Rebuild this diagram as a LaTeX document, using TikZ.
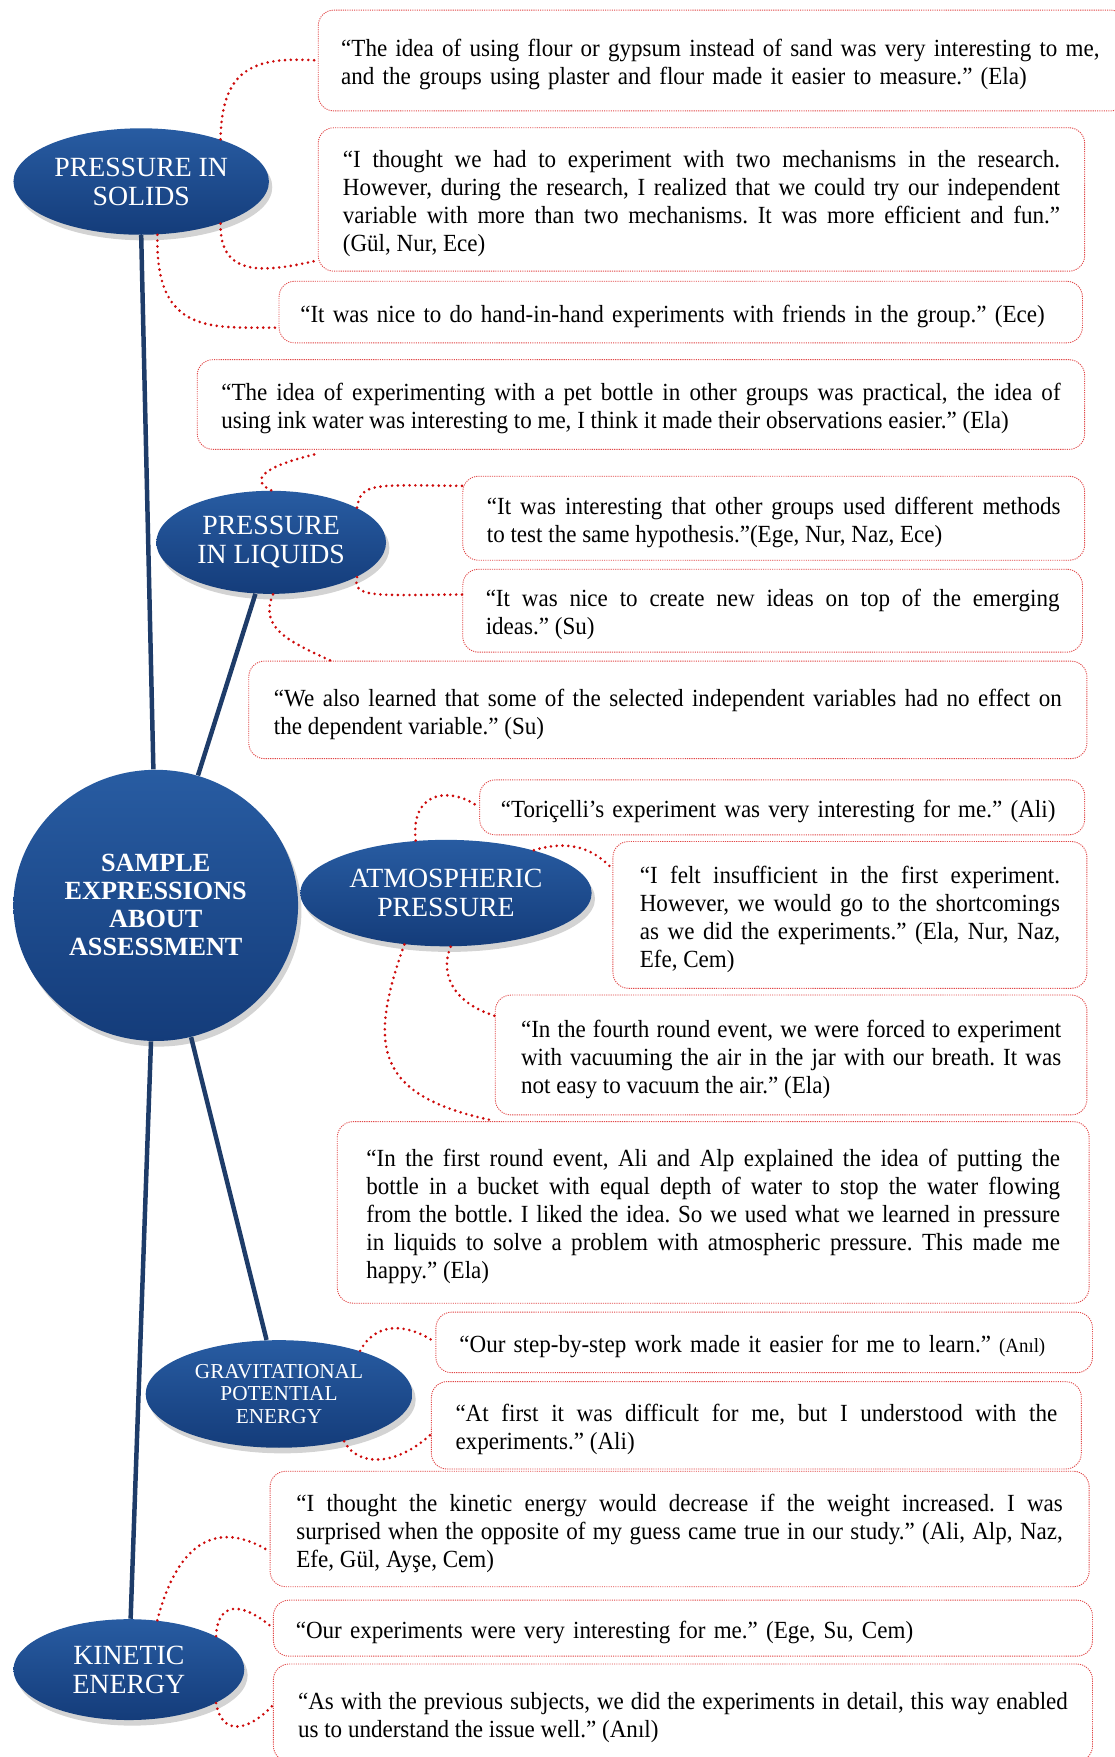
\documentclass[tikz,border=0pt]{standalone}
\usepackage{fontspec}
\setmainfont{Liberation Serif}
\newfontfamily\qfont[FakeStretch=0.935]{Liberation Serif}
\usetikzlibrary{shapes.geometric,shadows,calc}
\definecolor{ellA}{RGB}{40,92,162}
\definecolor{ellB}{RGB}{20,60,122}
\definecolor{trunkblue}{RGB}{30,60,105}
\definecolor{dotred}{RGB}{205,10,10}
\definecolor{boxred}{RGB}{225,70,70}
\tolerance=9999 \hbadness=10000
\frenchspacing

\begin{document}
\begin{tikzpicture}[x=0.5pt,y=-0.5pt,
    topic/.style={ellipse,inner sep=0pt,top color=ellA,bottom color=ellB,text=white,align=center,
      drop shadow={shadow xshift=1.5pt,shadow yshift=-2.5pt,opacity=0.35},
      font=\fontsize{12.4}{13}\selectfont},
    qbox/.style={draw=boxred,line width=0.4pt,dash pattern=on 0.5pt off 0.5pt,rounded corners=7pt,
      fill=white,inner sep=0pt,align=justify,font=\qfont\fontsize{11}{12.5}\selectfont,
      execute at begin node={\rule{0pt}{11.5pt}}},
    trunk/.style={draw=trunkblue,line width=2pt},
    link/.style={draw=dotred,line width=1.3pt,dash pattern=on 0pt off 2.6pt,line cap=round}]
\useasboundingbox (0,0) rectangle (995,1568);

% topics
\node[topic,minimum width=114pt,minimum height=47.5pt] (solids) at (126,162) {PRESSURE IN\\SOLIDS};
\node[topic,minimum width=102.5pt,minimum height=46pt] (liquids) at (242,484) {PRESSURE\\IN LIQUIDS};
\node[topic,minimum width=127pt,minimum height=121pt,font=\bfseries\fontsize{11.7}{12.5}\selectfont] (central) at (139,808)
  {SAMPLE\\EXPRESSIONS\\ABOUT\\ASSESSMENT};
\node[topic,minimum width=130pt,minimum height=47.5pt] (atmos) at (398,797) {ATMOSPHERIC\\PRESSURE};
\node[topic,minimum width=119pt,minimum height=48pt,font=\fontsize{9.5}{10}\selectfont] (grav) at (249,1244)
  {GRAVITATIONAL\\POTENTIAL\\ENERGY};
\node[topic,minimum width=103pt,minimum height=45pt] (kinetic) at (115,1490) {KINETIC\\ENERGY};

\draw[trunk] (solids.-90) -- (central.91);
\draw[trunk] (liquids.-107) -- (central.72);
\draw[trunk] (central.-92) -- (kinetic.88);
\draw[trunk] (central.-75) -- (grav.103);

% quotes
\node[qbox,minimum width=360.5pt,minimum height=45pt,text width=340pt,align=left,execute at begin node={}] (q1) at (644.5,54)
  {“The idea of using flour or gypsum instead of sand was very interesting to me,\\and the groups using plaster and flour made it easier to measure.” (Ela)};
\node[qbox,minimum width=342pt,minimum height=64pt,text width=320pt] (q2) at (626,178)
  {“I thought we had to experiment with two mechanisms in the research.\linebreak However, during the research, I realized that we could try our independent\linebreak variable with more than two mechanisms. It was more efficient and fun.”\linebreak (Gül, Nur, Ece)};
\node[qbox,minimum width=358.5pt,minimum height=27.5pt,text width=339.5pt,align=left] (q3) at (607.5,278.5)
  {“It was nice to do hand-in-hand experiments with friends in the group.” (Ece)};
\node[qbox,minimum width=396pt,minimum height=40pt,text width=374.5pt] (q4) at (572,361)
  {“The idea of experimenting with a pet bottle in other groups was practical, the idea of\linebreak using ink water was interesting to me, I think it made their observations easier.” (Ela)};
\node[qbox,minimum width=277.5pt,minimum height=37.5pt,text width=256pt] (q5) at (690.5,462.5)
  {“It was interesting that other groups used different methods\linebreak to test the same hypothesis.”(Ege, Nur, Naz, Ece)};
\node[qbox,minimum width=276.5pt,minimum height=37pt,text width=256pt] (q6) at (689.5,545)
  {“It was nice to create new ideas on top of the emerging\linebreak ideas.” (Su)};
\node[qbox,minimum width=374pt,minimum height=43.5pt,text width=351.5pt] (q7) at (596,633.5)
  {“We also learned that some of the selected independent variables had no effect on\linebreak the dependent variable.” (Su)};
\node[qbox,minimum width=270pt,minimum height=24.5pt,text width=251pt,align=left] (q8) at (698,720.5)
  {“Toriçelli’s experiment was very interesting for me.” (Ali)};
\node[qbox,minimum width=211.5pt,minimum height=65.5pt,text width=187.5pt] (q9) at (758.5,816.5)
  {“I felt insufficient in the first experiment.\linebreak However, we would go to the shortcomings\linebreak as we did the experiments.” (Ela, Nur, Naz,\linebreak Efe, Cem)};
\node[qbox,minimum width=264pt,minimum height=53.5pt,text width=241pt] (q10) at (706,941.5)
  {“In the fourth round event, we were forced to experiment\linebreak with vacuuming the air in the jar with our breath. It was\linebreak not easy to vacuum the air.” (Ela)};
\node[qbox,minimum width=335.5pt,minimum height=81pt,text width=309.5pt] (q11) at (636.5,1082)
  {“In the first round event, Ali and Alp explained the idea of putting the\linebreak bottle in a bucket with equal depth of water to stop the water flowing\linebreak from the bottle. I liked the idea. So we used what we learned in pressure\linebreak in liquids to solve a problem with atmospheric pressure. This made me\linebreak happy.” (Ela)};
\node[qbox,minimum width=293pt,minimum height=27pt,text width=272pt,align=left] (q12) at (682,1198)
  {“Our step-by-step work made it easier for me to learn.” {\fontsize{9}{12}\selectfont(Anıl)}};
\node[qbox,minimum width=290pt,minimum height=39pt,text width=268.5pt] (q13) at (675,1272)
  {“At first it was difficult for me, but I understood with the\linebreak experiments.” (Ali)};
\node[qbox,minimum width=365.5pt,minimum height=51.5pt,text width=342pt] (q14) at (606.5,1364.5)
  {“I thought the kinetic energy would decrease if the weight increased. I was\linebreak surprised when the opposite of my guess came true in our study.” (Ali, Alp, Naz,\linebreak Efe, Gül, Ayşe, Cem)};
\node[qbox,minimum width=365.5pt,minimum height=25pt,text width=345.5pt,align=left] (q15) at (609.5,1453)
  {“Our experiments were very interesting for me.” (Ege, Su, Cem)};
\node[qbox,minimum width=365.5pt,minimum height=43.5pt,text width=343.5pt] (q16) at (609.5,1528.5)
  {“As with the previous subjects, we did the experiments in detail, this way enabled\linebreak us to understand the issue well.” (Anıl)};

% dotted links
\coordinate (l4) at (283,405);
\coordinate (l7) at (298,591);
\coordinate (l11) at (440,1000);
\draw[link] (solids.28) .. controls (198,62) and (225,50) .. (q1.west);
\draw[link] (solids.-28) .. controls (196,250) and (240,242) .. ($(q2.south west)+(0,-10)$);
\draw[link] (solids.-73) .. controls (138,300) and (190,292) .. ($(q3.south west)+(0,-14)$);
\draw[link] (liquids.north) .. controls (222,428) and (236,416) .. (l4);
\draw[link] (liquids.22) .. controls (322,430) and (335,433) .. ($(q5.north west)+(0,9)$);
\draw[link] (liquids.-22) .. controls (314,534) and (335,531) .. ($(q6.north west)+(0,23)$);
\draw[link] (liquids.-88) .. controls (230,562) and (262,574) .. (l7);
\draw[link] (atmos.120) .. controls (366,703) and (405,703) .. (q8.west);
\draw[link] (atmos.26) .. controls (512,748) and (532,760) .. ($(q9.north west)+(0,25)$);
\draw[link] (atmos.-85) .. controls (392,870) and (405,895) .. ($(q10.north west)+(0,19)$);
\draw[link] (atmos.-129) .. controls (328,935) and (335,978) .. (l11);
\draw[link] (grav.28) .. controls (335,1180) and (362,1180) .. (q12.west);
\draw[link] (grav.-36) .. controls (318,1308) and (352,1310) .. ($(q13.west)+(0,8)$);
\draw[link] (kinetic.60) .. controls (156,1385) and (188,1352) .. ($(q14.west)+(0,20)$);
\draw[link] (kinetic.21) .. controls (194,1430) and (215,1428) .. (q15.west);
\draw[link] (kinetic.-21) .. controls (198,1550) and (222,1545) .. ($(q16.north west)+(0,37)$);
%  \draw[trunk] (central.east) -- (atmos.west);
\end{tikzpicture}
\end{document}
